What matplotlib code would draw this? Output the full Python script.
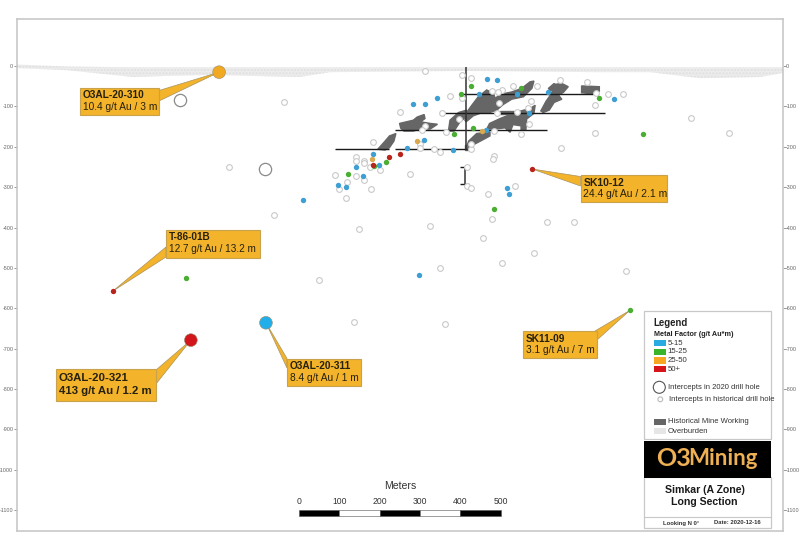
import matplotlib
matplotlib.use("Agg")
import matplotlib.pyplot as plt
from matplotlib.patches import Polygon, Rectangle, Circle

plt.rcParams["font.family"] = ["Liberation Sans", "DejaVu Sans"]
plt.rcParams["axes.unicode_minus"] = False

W, H = 800, 554
GREY = "#c4c4c4"
BLUE, GREEN, ORANGE, RED = "#29a3dc", "#41b02e", "#f2a922", "#d2161b"

# ---------- Data (section metres, elevation metres) ----------
yticks = [0, -100, -200, -300, -400, -500, -600, -700, -800, -900, -1000, -1100]

blue_x = [465, 491, 446, 343, 313, 283, 539, 616, 780, 570, 309, 268, 382, 184, 141, 159, 97, 116, 197, 515, 520, 463, 9, 296]
blue_y = [-32, -34, -68, -79, -94, -93, -68, -64, -82, -115, -182, -202, -208, -218, -250, -273, -294, -300, -244, -302, -318, -159, -332, -518]
green_x = [401, 425, 551, 744, 432, 383, 216, 121, 186, 483, -281, 820, 853]
green_y = [-69, -49, -54, -78, -153, -169, -237, -268, -248, -353, -526, -605, -168]
orange_x = [292, 180, 454]
orange_y = [-186, -230, -160]
red_x = [249, 224, 184, 578, -462]
red_y = [-218, -224, -245, -255, -558]

# 2020 drill holes drawn large
new_x = [-198, -268, -82]
new_y = [-15, -679, -636]
new_colors = [ORANGE, RED, "#22aee8"]
new_empty_x = [-295, -84]
new_empty_y = [-84, -255]

hist_x = [312, 404, 425, 646, 714, 530, 590, 477, 503, 492, 373, 404, 765, 803, 736, 575, 734, 496, 250, 355,
          490, 540, 568, 396, 312, 304, 363, 569, 483, 549, 734, 183, 300, 300, 335, 349, 426, 426, 648, 482,
          480, 142, 142, 160, 160, 176, 200, 274, 88, 142, 119, 162, 98, 179, 116, 416, 416, 427, 467, 535,
          478, 615, 681, 148, 325, 456, 583, -62, 349, 50, 136, 362, 502, 810, 971, 1064, -38, -174]
hist_y = [-12, -21, -29, -35, -39, -50, -49, -62, -59, -65, -74, -78, -69, -69, -66, -87, -97, -91, -113, -116,
          -116, -113, -105, -131, -148, -159, -164, -143, -160, -169, -165, -187, -194, -204, -206, -212, -206, -194, -202, -222,
          -230, -226, -235, -235, -240, -251, -258, -267, -271, -273, -287, -283, -305, -305, -327, -251, -298, -301, -316, -297,
          -379, -386, -386, -403, -395, -426, -462, -369, -500, -530, -635, -639, -487, -507, -129, -166, -89, -250]

overburden_x = [-699, -575, -411, -320, -213, 2, 77, 414, 746, 870, 994, 1142, 1199]
overburden_top = [4, -1, -3, -3, -3, -3, -3, -3, -3, -3, -3, -3, -3]
overburden_bot = [-5, -10, -27, -24, -22, -27, -15, -12, -15, -15, -30, -27, -17]

# mine workings, one outline per stope group
workings = [
    [(411, -134), (415, -115), (428, -97), (444, -76), (465, -59), (482, -68), (486, -80), (498, -70), (527, -64), (552, -55), (572, -39),
     (582, -37), (577, -55), (556, -76), (527, -82), (506, -95), (490, -109), (473, -115), (449, -117), (432, -123), (414, -138)],
    [(599, -111), (612, -87), (624, -70), (635, -45), (651, -43), (667, -51), (655, -65), (643, -72), (651, -82), (632, -90), (620, -109), (605, -115)],
    [(700, -49), (744, -51), (744, -62), (729, -69), (700, -66)],
    [(465, -156), (472, -142), (498, -130), (535, -115), (572, -105), (585, -97), (582, -117), (564, -131), (562, -159), (550, -159),
     (550, -148), (530, -145), (523, -164), (510, -153), (486, -156)],
    [(414, -204), (420, -186), (440, -167), (473, -163), (473, -173), (449, -186), (428, -197)],
    [(370, -161), (374, -134), (395, -115), (415, -109), (415, -125), (399, -138), (384, -161)],
    [(249, -142), (283, -134), (293, -126), (310, -120), (312, -130), (301, -138), (325, -142), (343, -144), (325, -156), (301, -156),
     (283, -161), (260, -161), (252, -154)],
    [(195, -206), (213, -186), (224, -173), (240, -167), (235, -186), (224, -202), (213, -208)],
    [(410, -196), (418, -196), (418, -208), (410, -208)],
    [(618, -55), (632, -43), (638, -51), (622, -62)],
    [(498, -112), (533, -112), (533, -118), (498, -118)],
]

# levels: elevation, start, end
levels = [(-68, 407, 480), (-68, 498, 729), (-115, 349, 758), (-159, 238, 614), (-205, 89, 222), (-205, 238, 415),
          (-249, 399, 410), (-291, 399, 422)]
shafts = [(413, -2, -208), (411, -249, -291)]

scale_ticks = [0, 100, 200, 300, 400, 500]

# label, detail, point, box (px), wedge base (px), font size
callouts = [
    ("O3AL-20-310", "10.4 g/t Au / 3 m", (-198, -15), (80, 87.5, 159, 115), [(159, 90.5), (159, 101)], 7.3),
    ("T-86-01B", "12.7 g/t Au / 13.2 m", (-462, -558), (166, 229.5, 260, 257.5), [(166, 247), (166, 257)], 7.2),
    ("O3AL-20-321", "413 g/t Au / 1.2 m", (-268, -679), (56, 369, 156, 400.5), [(156, 370), (156, 384)], 8.2),
    ("O3AL-20-311", "8.4 g/t Au / 1 m", (-82, -636), (287, 358.5, 361, 386), [(287, 358.5), (287, 368)], 7.3),
    ("SK10-12", "24.4 g/t Au / 2.1 m", (578, -255), (580.5, 175, 667, 202), [(580.5, 176.5), (580.5, 186)], 7.5),
    ("SK11-09", "3.1 g/t Au / 7 m", (820, -605), (523, 331, 597, 358), [(595, 331), (597, 340)], 7.3),
]

legend_bins = ["5-15", "15-25", "25-50", "50+"]
legend_colors = ["#29abe2", "#39b52c", "#f7a823", "#d7141a"]


# ---------- Main section ----------
fig = plt.figure(figsize=(W / 100, H / 100), dpi=100, facecolor="white")
ax = fig.add_axes([16.5 / W, (H - 531) / H, 766.5 / W, 512.5 / H])
ax.set_xlim(-700, 1199)
ax.set_ylim(-1152, 118)
ax.set_xticks([])
ax.set_yticks(yticks)
ax.tick_params(axis="y", labelsize=3.9, labelcolor="#666666", color="#888888", length=2, width=0.6, pad=0.3,
               left=True, right=True, labelleft=True, labelright=True)
for s in ax.spines.values():
    s.set_color(GREY)
    s.set_linewidth(1.1)

# pixel overlay for callouts and legend
ov = fig.add_axes([0, 0, 1, 1], facecolor="none")
ov.set_xlim(0, W)
ov.set_ylim(H, 0)
ov.axis("off")

ax.fill_between(overburden_x, overburden_top, overburden_bot, facecolor="#ececec", edgecolor="#e0e0e0",
                hatch=".....", linewidth=0, zorder=1)

for w in workings:
    ax.add_patch(Polygon(w, closed=True, facecolor="#666666", edgecolor="#666666", linewidth=1.0, zorder=2))

for y, x0, x1 in levels:
    ax.plot([x0, x1], [y, y], color="#1a1a1a", lw=1.0, solid_capstyle="butt", zorder=3)
for x, y0, y1 in shafts:
    ax.plot([x, x], [y0, y1], color="#333333", lw=1.1, solid_capstyle="butt", zorder=3)

ax.scatter(hist_x, hist_y, s=17, facecolor="white", edgecolor="#c9c9c9", linewidth=0.8, zorder=4)
ax.scatter(new_empty_x, new_empty_y, s=78, facecolor="white", edgecolor="#8a8a8a", linewidth=0.9, zorder=4)

for xs, ys, c in [(blue_x, blue_y, "#3d9fd3"), (green_x, green_y, "#4aae32"), (orange_x, orange_y, "#d9a94e"), (red_x, red_y, "#b8231c")]:
    ax.scatter(xs, ys, s=15, color=c, linewidth=0, zorder=7)

ax.scatter(new_x, new_y, s=84, c=new_colors, edgecolor="#9a8c6e", linewidth=0.4, zorder=7)

# scale bar
for left, right in zip(scale_ticks[:-1], scale_ticks[1:]):
    fill = "black" if scale_ticks.index(left) % 2 == 0 else "white"
    ax.add_patch(Rectangle((left, -1115), right - left, 16, facecolor=fill, edgecolor="#555555", linewidth=0.4, zorder=5))
for t in scale_ticks:
    ax.text(t, -1090, str(t), ha="center", va="bottom", fontsize=6.2, color="#333333")
ax.text(250, -1052, "Meters", ha="center", va="bottom", fontsize=7.6, color="#333333")


# ---------- Callouts ----------
BOX_FC = "#f3b32a"
BOX_EC = "#c9a24e"
for label, detail, pt, (x0, y0, x1, y1), base, fs in callouts:
    # wedge tip sits on the drill hole, base on the box, so it is drawn under the marker
    base_data = [tuple(ax.transData.inverted().transform(ov.transData.transform(b))) for b in base]
    ax.add_patch(Polygon([pt, base_data[0], base_data[1]], closed=True, facecolor=BOX_FC, edgecolor="#a8935f", linewidth=0.5, zorder=6))
    ov.add_patch(Rectangle((x0, y0), x1 - x0, y1 - y0, facecolor=BOX_FC, edgecolor=BOX_EC, linewidth=0.8, zorder=6))
    ymid = (y0 + y1) / 2
    heavy = label == "O3AL-20-321"
    ov.text(x0 + 2.8, ymid - (y1 - y0) * 0.22, label, fontsize=fs, fontweight="bold", color="#26200f", va="center", zorder=8)
    ov.text(x0 + 2.8, ymid + (y1 - y0) * 0.21, detail, fontsize=fs, color="#26200f", va="center",
            fontweight="bold" if heavy else "normal", zorder=8)

# ---------- Legend panel ----------
PANEL = dict(facecolor="white", edgecolor="#c8c8c8", linewidth=0.9)
ov.add_patch(Rectangle((644, 310.5), 127, 128, **PANEL))
ov.add_patch(Rectangle((644, 477), 127, 50.5, **PANEL))
ov.add_patch(Rectangle((644, 440.5), 127, 37, facecolor="black", edgecolor="none"))
ov.plot([644, 771], [516.5, 516.5], color="#c8c8c8", lw=0.8)

ov.text(653.7, 322.5, "Legend", fontsize=6.9, fontweight="bold", color="#222222", va="center")
ov.text(653.7, 334, "Metal Factor (g/t Au*m)", fontsize=5.2, fontweight="bold", color="#222222", va="center")
for i, (b, c) in enumerate(zip(legend_bins, legend_colors)):
    y = 340 + 8.67 * i
    ov.add_patch(Rectangle((653.7, y), 12, 6.3, facecolor=c, edgecolor="none"))
    ov.text(667.7, y + 3.2, b, fontsize=5.6, color="#333333", va="center")

ov.add_patch(Circle((659.3, 387.3), 6, facecolor="white", edgecolor="#555555", linewidth=0.8))
ov.text(667.7, 387.3, "Intercepts in 2020 drill hole", fontsize=5.5, color="#333333", va="center")
ov.add_patch(Circle((660.3, 399.3), 2.4, facecolor="white", edgecolor="#bbbbbb", linewidth=0.8))
ov.text(668.7, 399.3, "Intercepts in historical drill hole", fontsize=5.5, color="#333333", va="center")
ov.add_patch(Rectangle((653.7, 418.7), 12, 6, facecolor="#666666", edgecolor="none"))
ov.text(667.7, 421.7, "Historical Mine Working", fontsize=5.5, color="#333333", va="center")
ov.add_patch(Rectangle((653.7, 428), 12, 6.3, facecolor="#e6e6e6", edgecolor="none"))
ov.text(667.7, 431.3, "Overburden", fontsize=5.5, color="#333333", va="center")

LOGO = dict(fontweight="bold", family=["Lato", "DejaVu Sans"], color="#eeb054", va="center")
ov.text(656, 458.5, "O3", ha="left", fontsize=18, **LOGO)
ov.text(758, 458.5, "Mining", ha="right", fontsize=16, **LOGO)
ov.text(704.5, 490.3, "Simkar (A Zone)", fontsize=7.6, fontweight="bold", color="#1a1a1a", ha="center", va="center")
ov.text(704.5, 502, "Long Section", fontsize=7.6, fontweight="bold", color="#1a1a1a", ha="center", va="center")
ov.text(662.7, 523, "Looking N 0°", fontsize=4.2, fontweight="bold", color="#333333", va="center")
ov.text(713.7, 523, "Date: 2020-12-16", fontsize=4.2, fontweight="bold", color="#333333", va="center")

fig.savefig("out.png", dpi=100)
